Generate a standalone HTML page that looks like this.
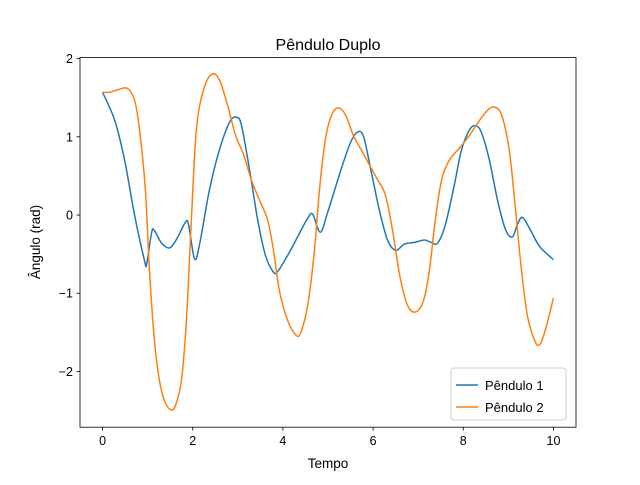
<!DOCTYPE html>
<html><head><meta charset="utf-8"><style>
body{margin:0;background:#fff}
text{font-family:"Liberation Sans","DejaVu Sans",sans-serif;fill:#000}
</style></head><body>
<svg id="chart" width="640" height="480">
<rect width="640" height="480" fill="#fff"/>
<text x="328" y="50" font-size="16" text-anchor="middle">Pêndulo Duplo</text>
<g id="plot"></g>
<text x="328" y="468" font-size="13.5" text-anchor="middle">Tempo</text>
<text transform="translate(40,242) rotate(-90)" font-size="13.5" text-anchor="middle">Ângulo (rad)</text>
<g>
<rect x="451" y="368" width="115" height="52" rx="3" fill="#fff" fill-opacity="0.8" stroke="#ccc"/>
<g><line x1="456" y1="385" x2="478" y2="385" stroke="#1f77b4" stroke-width="1.5"/><text x="485" y="390" font-size="13">Pêndulo 1</text></g>
<g><line x1="456" y1="407" x2="478" y2="407" stroke="#ff7f0e" stroke-width="1.5"/><text x="485" y="412" font-size="13">Pêndulo 2</text></g>
</g>
</svg>
<script>
const xTicks=[0,2,4,6,8,10];
const yTicks=[2,1,0,-1,-2];
const t1=[0,0.27,0.49,0.71,0.93,0.98,1.09,1.15,1.31,1.49,1.66,1.84,1.91,2.04,2.15,2.37,2.59,2.82,2.97,3.08,3.26,3.44,3.61,3.79,3.9,4.15,4.37,4.55,4.66,4.83,4.99,5.25,5.48,5.65,5.79,5.96,6.14,6.32,6.5,6.7,6.92,7.14,7.29,7.43,7.6,7.8,7.96,8.14,8.27,8.4,8.58,8.76,8.94,9.09,9.2,9.31,9.47,9.69,10];
const y1=[1.57,1.21,0.7,0,-0.58,-0.62,-0.22,-0.2,-0.36,-0.42,-0.29,-0.09,-0.13,-0.56,-0.38,0.32,0.83,1.19,1.25,1.15,0.58,-0.06,-0.51,-0.73,-0.71,-0.47,-0.23,-0.04,0.01,-0.22,0.03,0.51,0.9,1.06,1.0,0.55,0.06,-0.32,-0.45,-0.37,-0.35,-0.32,-0.35,-0.36,-0.13,0.38,0.83,1.09,1.14,1.06,0.7,0.19,-0.19,-0.28,-0.12,-0.03,-0.17,-0.4,-0.57];
const t2=[0,0.16,0.33,0.55,0.71,0.82,0.95,1.04,1.15,1.26,1.37,1.51,1.62,1.75,1.86,1.97,2.08,2.24,2.42,2.59,2.77,2.95,3.13,3.3,3.48,3.66,3.79,3.92,4.1,4.28,4.39,4.55,4.7,4.81,4.94,5.08,5.23,5.39,5.56,5.74,5.92,6.1,6.27,6.43,6.59,6.76,6.94,7.12,7.25,7.38,7.52,7.69,7.92,8.14,8.36,8.54,8.69,8.85,9.02,9.16,9.29,9.42,9.58,9.69,9.82,10];
const y2=[1.57,1.57,1.6,1.62,1.47,1.09,0.32,-0.7,-1.6,-2.11,-2.37,-2.49,-2.43,-2.11,-1.34,-0.06,1.09,1.6,1.8,1.73,1.41,1.02,0.77,0.45,0.19,-0.06,-0.45,-0.96,-1.34,-1.53,-1.51,-1.15,-0.45,0.32,0.96,1.28,1.37,1.28,1.02,0.83,0.64,0.45,0.26,-0.19,-0.77,-1.15,-1.24,-1.09,-0.7,-0.06,0.45,0.7,0.86,1.02,1.21,1.34,1.38,1.28,0.83,0.06,-0.7,-1.28,-1.6,-1.66,-1.47,-1.06];
const L=80,R=576,T=57.6,B=427.2,xmin=-0.5,xmax=10.5,ymin=-2.713,ymax=2.013;
const sx=v=>L+(v-xmin)/(xmax-xmin)*(R-L);
const sy=v=>B-(v-ymin)/(ymax-ymin)*(B-T);
const NS="http://www.w3.org/2000/svg";
const g=document.getElementById('plot');
function mk(tag,a){const e=document.createElementNS(NS,tag);for(const k in a)e.setAttribute(k,a[k]);g.appendChild(e);return e;}
function path(ts,ys){const p=ts.map((t,i)=>[sx(t),sy(ys[i])]);let d=`M${p[0][0]},${p[0][1]}`;
for(let i=0;i<p.length-1;i++){const a=p[Math.max(i-1,0)],b=p[i],c=p[i+1],e=p[Math.min(i+2,p.length-1)];
d+=` C${b[0]+(c[0]-a[0])/6},${b[1]+(c[1]-a[1])/6} ${c[0]-(e[0]-b[0])/6},${c[1]-(e[1]-b[1])/6} ${c[0]},${c[1]}`;}return d;}
const l1=mk('path',{d:path(t1,y1),fill:'none',stroke:'#1f77b4','stroke-width':1.5});


const l2=mk('path',{d:path(t2,y2),fill:'none',stroke:'#ff7f0e','stroke-width':1.5});


const fr=mk('rect',{x:L,y:T,width:R-L,height:B-T,fill:'none',stroke:'#000','stroke-width':0.8});


xTicks.forEach(v=>{const x=sx(v);mk('line',{x1:x,y1:B,x2:x,y2:B+3.5,stroke:'#000','stroke-width':0.8});
const tx=mk('text',{x:x,y:B+18,'font-size':12.5,'text-anchor':'middle'});tx.textContent=v;

});
yTicks.forEach(v=>{const y=sy(v);mk('line',{x1:L-3.5,y1:y,x2:L,y2:y,stroke:'#000','stroke-width':0.8});
const tx=mk('text',{x:L-7,y:y+4.5,'font-size':12.5,'text-anchor':'end'});tx.textContent=v<0?'\u2212'+(-v):v;

});
</script>
</body></html>
